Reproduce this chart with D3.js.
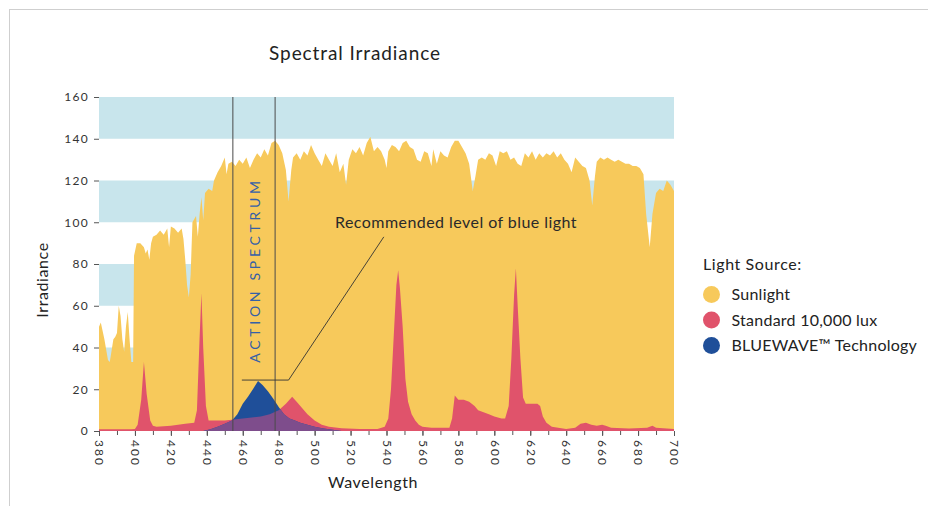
<!DOCTYPE html>
<html><head><meta charset="utf-8">
<script src="https://cdn.jsdelivr.net/npm/d3@7"></script>
<style>
html,body{margin:0;padding:0;background:#fff;}
svg{display:block;font-family:Lato,"Open Sans",sans-serif;}
</style></head>
<body>
<svg id="chart" width="928" height="506"></svg>
<script>
// ---- data ----
const title = "Spectral Irradiance";
const xTicks = [380,400,420,440,460,480,500,520,540,560,580,600,620,640,660,680,700];
const yTicks = [0,20,40,60,80,100,120,140,160];
const bands = [[20,40],[60,80],[100,120],[140,160]];
const actionSpectrum = [454.5, 478];
const recommendedLevel = 24.4;

// Sunlight [wavelength, irradiance]
const sunlight = [
[380,50],[381,52],[383,44],[385,34],[386,33],[388,44],[389,45],[390,47],[391,60],[392,55],[393,44],[394,38],[395,50],[396,57],[397,44],[398,33],[399,33],
[399.5,84],[401,90],[403,90],[405,88],[406,85],[407,87],[408,82],[409,90],[410,93],[412,94],[414,96],[416,94],[418,97],[419,88],[420,98],[422,97],[424,95],[426,97],[427,92],[428,82],[429,70],[430,64],[431,75],
[432,100],[434,103],[435,93],[436,104],[437,112],[438,101],[439,114],[441,116],[443,115],[444,120],[446,124],[448,127],[450,131],[451,123],[452,128],[454,129],[456,127],[458,130],[460,128],[462,131],[464,126],[466,130],[468,133],[470,131],[472,135],[474,132],[476,138],[478,139],[480,137],[482,133],[484,125],[485.5,110],[487,125],[488,131],[490,133],[492,130],[494,134],[496,132],[498,137],[500,133],[502,130],[504,127],[506,133],[508,130],[510,127],[512,133],[514,124],[516,128],[517.5,118],[519,130],[521,135],[523,133],[525,136],[527,132],[529,138],[531,141],[533,134],[535,136],[537,134],[539,130],[540,126],[541,134],[543,137],[545,136],[547,134],[549,138],[551,139],[553,136],[555,135],[557,130],[559,129],[561,134],[563,133],[565,127],[566,135],[568,128],[570,134],[572,132],[574,131],[576,136],[578,139],[580,139],[582,136],[584,133],[586,128],[588,115],[589.5,122],[591,130],[593,131],[595,130],[597,133],[599,132],[601,127],[603,134],[605,133],[607,134],[609,130],[611,131],[613,128],[615,127],[617,133],[619,131],[621,134],[623,130],[625,133],[627,131],[629,133],[631,132],[633,134],[635,131],[637,133],[639,130],[641,128],[643,124],[645,131],[647,129],[649,127],[651,126],[653,120],[654.5,108],[656,122],[657,129],[659,131],[661,130],[663,131],[665,130],[667,129],[669,130],[671,129],[673,128],[675,128],[677,127],[679,127],[681,126],[683,123],[684.5,104],[686.5,88],[688,104],[690,114],[692,116],[694,115],[696,120],[698,118],[700,115]
];

// Standard 10,000 lux [wavelength, irradiance]
const standard = [
[380,0.8],[398,0.8],[400,1],[401.5,3],[403.5,15],[405,33],[406.5,18],[408.5,5],[410,2.5],[412,2],[420,2.5],[428,3.5],[433,4],[434.5,10],[436,45],[437,66],[438,40],[439.5,12],[441,5],[445,5],[450,5],[455,5.5],[460,6],[465,6.5],[470,7],[475,8],[480,10],[484,13],[487.5,16.4],[490,14],[493,11],[496,8],[500,5],[504,3],[508,2],[515,1.3],[525,1],[535,1],[539,2],[541,6],[542.5,20],[544,45],[545.5,70],[546.5,77],[547.5,68],[549,50],[550.5,25],[552,14],[554,8],[556,5],[558,3],[560,2],[565,1.6],[575,1.6],[576.5,6],[578,17],[580,15],[583,15],[586,14],[589,12],[591,10],[594,9],[597,8],[600,7],[604,6],[606,6],[608,12],[609.5,35],[611,65],[612,78],[613,60],[614.5,35],[616,16],[617.5,13],[620,13],[624,13],[625.5,12],[627,7],[629,4],[632,2],[640,1],[645,1.5],[648,3.5],[651,4],[654,3],[657,2.5],[660,3],[662,2.5],[665,1.5],[675,1.2],[685,1.5],[688,2.5],[690,1.5],[700,1]
];

// BLUEWAVE Technology [wavelength, irradiance]
const bluewave = [
[438,0],[442,0.8],[446,2],[450,3.5],[454,5],[457,8],[460,13],[463,16.5],[466,20.5],[468.5,24],[471,22],[474,19],[477,15.5],[480,11.5],[483,8],[486,6],[489,5],[492,4],[496,3],[500,2],[505,1.2],[510,0.6],[515,0]
];

const legendTitle = "Light Source:";
const legendLabels = ["Sunlight","Standard 10,000 lux","BLUEWAVE\u2122 Technology"];
const colors = ["#f7c95b","#e0536b","#1f4f99"];
const overlapColor = "#7e4d8c";
const bandColor = "#c8e5ec";

// ---- drawing ----
const svg = d3.select("#chart");
const x = d3.scaleLinear().domain([380,700]).range([99,674]);
const y = d3.scaleLinear().domain([0,160]).range([431,97]);

svg.append("rect").attr("x",9.5).attr("y",9.5).attr("width",1000).attr("height",1000)
  .attr("fill","none").attr("stroke","#cfcfcf");

svg.append("text").attr("x",355).attr("y",60).attr("text-anchor","middle")
  .attr("font-size",19).attr("letter-spacing",0.9).attr("fill","#222").text(title);

svg.append("g").selectAll("rect").data(bands).join("rect")
  .attr("x",x(380)).attr("width",x(700)-x(380))
  .attr("y",d=>y(d[1])).attr("height",d=>y(d[0])-y(d[1]))
  .attr("fill",bandColor);

const area = d3.area().x(d=>x(d[0])).y0(y(0)).y1(d=>y(d[1]));

svg.append("path").datum(sunlight).attr("d",area).attr("fill",colors[0]);
svg.append("clipPath").attr("id","redclip").append("path").datum(standard).attr("d",area);
svg.append("path").datum(standard).attr("d",area).attr("fill",colors[1]);
svg.append("path").datum(bluewave).attr("d",area).attr("fill",colors[2]);
svg.append("path").datum(bluewave).attr("d",area).attr("fill",overlapColor).attr("clip-path","url(#redclip)");

// action spectrum lines
svg.append("g").selectAll("line").data(actionSpectrum).join("line")
  .attr("x1",d=>x(d)).attr("x2",d=>x(d)).attr("y1",y(160)).attr("y2",y(0))
  .attr("stroke","#4a4a4a").attr("stroke-width",1);

svg.append("text")
  .attr("transform",`translate(${(x(actionSpectrum[0])+x(actionSpectrum[1]))/2+6},270) rotate(-90)`)
  .attr("text-anchor","middle").attr("font-size",14).attr("letter-spacing",3.7)
  .attr("fill","#3560a6").text("ACTION SPECTRUM");

// recommended level callout
const ly = y(recommendedLevel);
svg.append("path")
  .attr("d",`M${x(459.5)},${ly}H${x(485.5)}L${x(538.5)},${y(93)}`)
  .attr("fill","none").attr("stroke","#333").attr("stroke-width",0.9);
svg.append("text").attr("x",335).attr("y",228).attr("font-size",16).attr("letter-spacing",0.45).attr("fill","#2a2a2a")
  .text("Recommended level of blue light");

// axes
const yAxis = svg.append("g").attr("transform",`translate(${x(380)},0)`)
  .call(d3.axisLeft(y).tickValues(yTicks).tickSize(5).tickPadding(5));
yAxis.select(".domain").remove();
yAxis.selectAll("text").attr("font-size",12).attr("letter-spacing",1.3).attr("fill","#333").attr("font-family","Lato,sans-serif");
yAxis.selectAll("line").attr("stroke","#555");

const xMinor = d3.range(380,701,10);
const xAxisMinor = svg.append("g").attr("transform",`translate(0,${y(0)})`)
  .call(d3.axisBottom(x).tickValues(xMinor).tickSize(4).tickFormat(""));
xAxisMinor.select(".domain").remove();
xAxisMinor.selectAll("line").attr("stroke","#555");

const xAxis = svg.append("g").attr("transform",`translate(0,${y(0)})`)
  .call(d3.axisBottom(x).tickValues(xTicks).tickSize(5));
xAxis.select(".domain").remove();
xAxis.selectAll("line").attr("stroke","#555");
xAxis.selectAll("text").attr("font-size",12).attr("letter-spacing",2).attr("fill","#333")
  .attr("font-family","Lato,sans-serif")
  .attr("transform","rotate(90)").attr("text-anchor","start").attr("dy","0.35em").attr("x",9).attr("y",0);

svg.append("text").attr("x",373).attr("y",488).attr("text-anchor","middle")
  .attr("font-size",16).attr("letter-spacing",0.6).attr("fill","#222").text("Wavelength");
svg.append("text").attr("transform","translate(48,280) rotate(-90)").attr("text-anchor","middle")
  .attr("font-size",16).attr("letter-spacing",0.6).attr("fill","#222").text("Irradiance");

// legend
const lg = svg.append("g");
lg.append("text").attr("x",703).attr("y",270).attr("font-size",16).attr("letter-spacing",0.6).attr("fill","#222").text(legendTitle);
const items = lg.selectAll("g.item").data(legendLabels).join("g").attr("class","item")
  .attr("transform",(d,i)=>`translate(711.5,${294.5+i*25.5})`);
items.append("circle").attr("r",8.5).attr("fill",(d,i)=>colors[i]);
items.append("text").attr("x",20).attr("y",5.5).attr("font-size",16).attr("letter-spacing",0.25).attr("fill","#222").text(d=>d);
</script>
</body></html>
